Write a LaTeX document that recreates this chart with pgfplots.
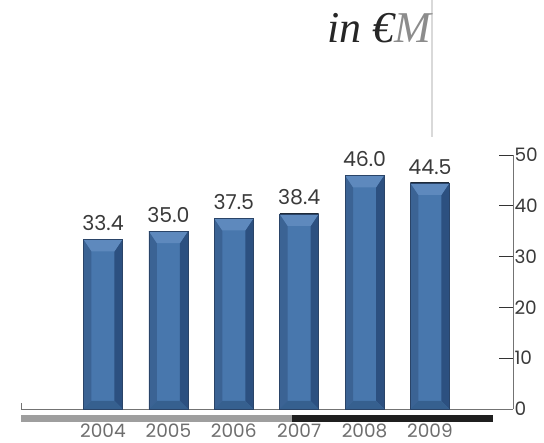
\documentclass[border=0pt]{standalone}
\usepackage{pgfplots}
\pgfplotsset{compat=1.18}
\usepackage{fontspec}
\setmainfont{Poppins}
\newfontfamily\titlefont{Liberation Serif}
\definecolor{face}{HTML}{4877AD}
\definecolor{topb}{HTML}{5E89BD}
\definecolor{leftb}{HTML}{3B6394}
\definecolor{rightb}{HTML}{2C5080}
\definecolor{botb}{HTML}{36608F}
\definecolor{edgec}{HTML}{1E2A38}
\definecolor{outl}{HTML}{2A4468}
\definecolor{valc}{HTML}{3A3A3A}
\definecolor{yearc}{HTML}{6E6E6E}
\newcommand\PA[1]{\pgfpointanchor{path picture bounding box}{#1}}
\newcommand\PO[3]{\pgfpointadd{\PA{#1}}{\pgfpoint{#2}{#3}}}
\tikzset{bevel/.style={
  fill=face, draw=outl, line width=0.6pt,
  path picture={%
    \pgfpathmoveto{\PA{south west}}\pgfpathlineto{\PA{north west}}%
    \pgfpathlineto{\PO{north west}{8pt}{-12pt}}\pgfpathlineto{\PO{south west}{8pt}{8pt}}\pgfpathclose
    \pgfsetfillcolor{leftb}\pgfusepath{fill}%
    \pgfpathmoveto{\PA{south east}}\pgfpathlineto{\PA{north east}}%
    \pgfpathlineto{\PO{north east}{-8pt}{-12pt}}\pgfpathlineto{\PO{south east}{-8pt}{8pt}}\pgfpathclose
    \pgfsetfillcolor{rightb}\pgfusepath{fill}%
    \pgfpathmoveto{\PA{north west}}\pgfpathlineto{\PA{north east}}%
    \pgfpathlineto{\PO{north east}{-8pt}{-12pt}}\pgfpathlineto{\PO{north west}{8pt}{-12pt}}\pgfpathclose
    \pgfsetfillcolor{topb}\pgfusepath{fill}%
    \pgfpathmoveto{\PA{south west}}\pgfpathlineto{\PA{south east}}%
    \pgfpathlineto{\PO{south east}{-8pt}{8pt}}\pgfpathlineto{\PO{south west}{8pt}{8pt}}\pgfpathclose
    \pgfsetfillcolor{botb}\pgfusepath{fill}%
    \pgfsetlinewidth{1.2pt}\pgfsetstrokecolor{edgec}%
    \pgfpathmoveto{\PA{north west}}\pgfpathlineto{\PA{north east}}\pgfusepath{stroke}%
  }}}
\begin{document}
\begin{tikzpicture}
\useasboundingbox (0,0) rectangle (544pt,443pt);
\begin{axis}[
  at={(21pt,34pt)}, anchor=south west, scale only axis,
  width=492pt, height=254pt,
  xmin=-1.254, xmax=6.27, ymin=0, ymax=50,
  enlargelimits=false,
  axis x line*=bottom, axis y line*=right,
  axis line style={draw=black!55, line width=0.8pt},
  xtick={0,...,5}, xticklabels={2004,2005,2006,2007,2008,2009},
  x tick style={draw=none},
  xticklabel style={font=\fontsize{18.5}{20}\selectfont, text=yearc, yshift=-11pt},
  ytick={0,10,...,50},
  ytick align=inside,
  y tick style={draw=black!80, line width=0.8pt},
  major tick length=14pt,
  yticklabel style={font=\fontsize{18.5}{20}\selectfont, text=valc, xshift=-2pt},
  /pgf/number format/assume math mode=true,
  clip=false,
  barstyle/.style={ybar, bar width=39pt, bar shift=0pt, bevel},
]
\addplot[barstyle] coordinates {(0,33.4)};
\addplot[barstyle] coordinates {(1,35.0)};
\addplot[barstyle] coordinates {(2,37.5)};
\addplot[barstyle] coordinates {(3,38.4)};
\addplot[barstyle] coordinates {(4,46.0)};
\addplot[barstyle] coordinates {(5,44.5)};
\addplot[only marks, mark=none, nodes near coords, point meta=explicit symbolic,
  nodes near coords style={font=\fontsize{20.5}{22}\selectfont, text=valc, anchor=south, yshift=5pt}]
  coordinates {(0,33.4) [33.4] (1,35.0) [35.0] (2,37.5) [37.5] (3,38.4) [38.4] (4,46.0) [46.0] (5,44.5) [44.5]};
\end{axis}
\draw[black!55, line width=0.8pt] (21pt,34pt)--(21pt,40pt);
\fill[black!38] (21pt,21pt) rectangle (292pt,28pt);
\fill[black!88] (292pt,21pt) rectangle (493pt,28pt);
\draw[black!15, line width=1.2pt] (432pt,306pt)--(432pt,443pt);
\node[anchor=base west, inner sep=0pt, font=\titlefont\itshape\fontsize{44}{44}\selectfont, text=black!85] at (327pt,400pt) {in €\textcolor{black!45}{M}};
\end{tikzpicture}
\end{document}
